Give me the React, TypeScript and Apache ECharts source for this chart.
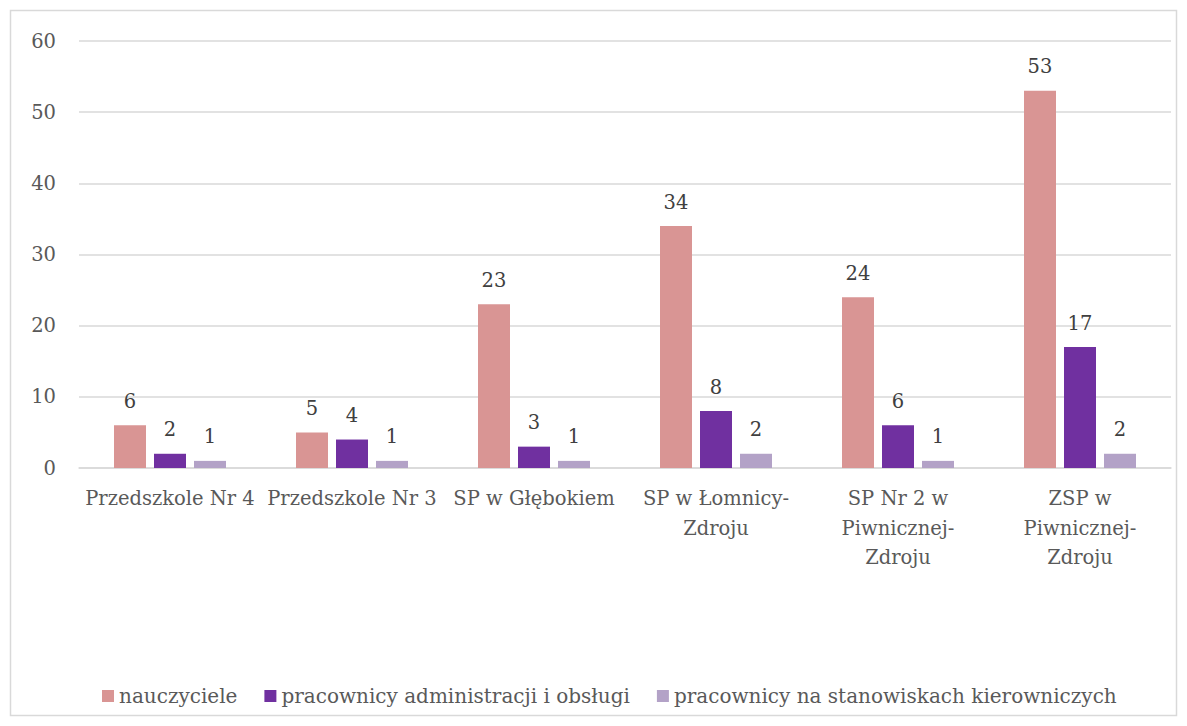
import React, { useEffect, useRef } from "react";
import * as echarts from "echarts";

const categories = [
  "Przedszkole Nr 4",
  "Przedszkole Nr 3",
  "SP w Głębokiem",
  "SP w Łomnicy-\nZdroju",
  "SP Nr 2 w\nPiwnicznej-\nZdroju",
  "ZSP w\nPiwnicznej-\nZdroju",
];
const seriesNames = [
  "nauczyciele",
  "pracownicy administracji i obsługi",
  "pracownicy na stanowiskach kierowniczych",
];
const nauczyciele = [6, 5, 23, 34, 24, 53];
const administracja = [2, 4, 3, 8, 6, 17];
const kierownicy = [1, 1, 1, 2, 1, 2];
const colors = ["#D99594", "#7030A0", "#B3A2C7"];

const FONT = "DejaVu Serif";

export default function App() {
  const ref = useRef<HTMLDivElement>(null);
  useEffect(() => {
    if (!ref.current) return;
    const chart = echarts.init(ref.current, null, { renderer: "svg" });
    const values = [nauczyciele, administracja, kierownicy];
    chart.setOption({
      animation: false,
      textStyle: { fontFamily: FONT },
      graphic: [
        {
          type: "rect",
          shape: { x: 10.5, y: 10.5, width: 1166, height: 705 },
          style: { fill: "none", stroke: "#D9D9D9", lineWidth: 1.5 },
          silent: true,
        },
      ],
      grid: { left: 79, right: 16, top: 41, bottom: 258 },
      legend: {
        bottom: 15,
        left: 97,
        itemWidth: 12,
        itemHeight: 12,
        itemGap: 27,
        icon: "rect",
        textStyle: { fontFamily: FONT, fontSize: 20, color: "#595959" },
        data: seriesNames,
      },
      xAxis: {
        type: "category",
        data: categories,
        axisLine: { lineStyle: { color: "#D9D9D9", width: 1.5 } },
        axisTick: { show: false },
        axisLabel: {
          interval: 0,
          fontFamily: FONT,
          fontSize: 19.5,
          color: "#595959",
          margin: 16,
          lineHeight: 29.5,
        },
      },
      yAxis: {
        type: "value",
        min: 0,
        max: 60,
        interval: 10,
        axisLine: { show: false },
        axisTick: { show: false },
        splitLine: { lineStyle: { color: "#D9D9D9", width: 1.5 } },
        axisLabel: {
          fontFamily: FONT,
          fontSize: 19.5,
          color: "#595959",
          margin: 23,
        },
      },
      series: seriesNames.map((name, i) => ({
        name,
        type: "bar",
        data: values[i],
        barWidth: 32,
        barGap: "25%",
        itemStyle: { color: colors[i] },
        label: {
          show: true,
          position: "top",
          distance: 14,
          fontFamily: FONT,
          fontSize: 19.5,
          color: "#404040",
        },
      })),
    });
    return () => chart.dispose();
  }, []);
  return (
    <div
      ref={ref}
      style={{ position: "fixed", left: 0, top: 0, width: 1187, height: 726, background: "#fff" }}
    />
  );
}
